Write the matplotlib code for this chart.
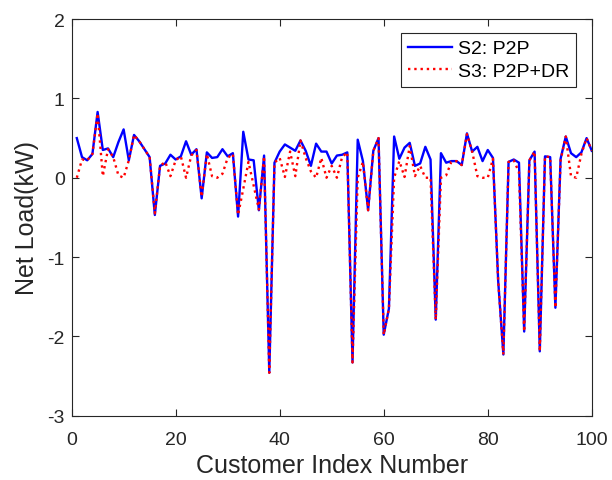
import numpy as np
import matplotlib.pyplot as plt

plt.rcParams['font.family'] = ['Liberation Sans', 'DejaVu Sans']
plt.rcParams['axes.unicode_minus'] = False

# customer index 1..100
customers = np.arange(1, 101)

# S2: P2P net load (kW)
s2_p2p = [0.50, 0.26, 0.22, 0.30, 0.83, 0.35, 0.37, 0.26, 0.45, 0.61,
          0.22, 0.54, 0.46, 0.36, 0.26, -0.47, 0.15, 0.18, 0.29, 0.23,
          0.27, 0.46, 0.29, 0.36, -0.26, 0.32, 0.25, 0.26, 0.36, 0.27,
          0.31, -0.49, 0.58, 0.23, 0.22, -0.41, 0.28, -2.46, 0.19, 0.33,
          0.42, 0.38, 0.34, 0.47, 0.34, 0.15, 0.43, 0.33, 0.33, 0.18,
          0.28, 0.29, 0.32, -2.33, 0.48, 0.21, -0.41, 0.34, 0.50, -1.98,
          -1.65, 0.52, 0.24, 0.38, 0.44, 0.15, 0.18, 0.39, 0.23, -1.79,
          0.31, 0.19, 0.21, 0.21, 0.16, 0.56, 0.33, 0.39, 0.21, 0.35,
          0.25, -1.30, -2.23, 0.20, 0.23, 0.19, -1.94, 0.22, 0.33, -2.19,
          0.27, 0.26, -1.64, 0.24, 0.52, 0.31, 0.26, 0.32, 0.50, 0.34]

# S3: P2P+DR net load (kW)
s3_p2p_dr = [0.00, 0.23, 0.22, 0.30, 0.81, 0.02, 0.36, 0.26, 0.03, 0.00,
             0.22, 0.54, 0.46, 0.36, 0.26, -0.45, 0.15, 0.20, 0.02, 0.22,
             0.27, 0.00, 0.28, 0.35, -0.24, 0.30, 0.02, 0.00, 0.05, 0.25,
             0.30, -0.47, -0.14, 0.20, -0.10, -0.40, 0.27, -2.46, 0.19, 0.25,
             0.01, 0.33, 0.02, 0.47, 0.25, 0.08, 0.00, 0.25, 0.00, 0.15,
             0.00, 0.26, 0.32, -2.33, 0.00, 0.20, -0.41, 0.34, 0.50, -1.98,
             -1.65, 0.00, 0.21, 0.01, 0.40, 0.02, 0.15, 0.00, 0.00, -1.79,
             0.00, 0.03, 0.20, 0.21, 0.16, 0.55, 0.33, 0.02, 0.00, 0.00,
             0.24, -1.30, -2.23, 0.20, 0.22, 0.07, -1.94, 0.22, 0.33, -2.19,
             0.27, 0.26, -1.64, 0.22, 0.52, 0.02, 0.00, 0.30, 0.50, 0.34]

axis_col = '#262626'

fig = plt.figure(figsize=(6.12, 4.81), dpi=100)
ax = fig.add_axes([0.117, 0.134, 0.850, 0.824])

ax.plot(customers, s2_p2p, '-', color='#0000ff', lw=1.7, label='S2: P2P')
ax.plot(customers, s3_p2p_dr, ':', color='#ff0000', lw=1.7, label='S3: P2P+DR')

ax.set_xlim(0, 100)
ax.set_ylim(-3, 2)
ax.set_xticks(np.arange(0, 101, 20))
ax.set_yticks(np.arange(-3, 3, 1))

ax.set_xlabel('Customer Index Number', fontsize=18, color=axis_col, labelpad=4)
ax.set_ylabel('Net Load(kW)', fontsize=18, color=axis_col, labelpad=6)

ax.tick_params(direction='in', top=True, right=True, length=5,
               width=0.8, labelsize=14, colors=axis_col, pad=5)
ax.tick_params(axis='x', pad=11)
for sp in ax.spines.values():
    sp.set_color(axis_col)
    sp.set_linewidth(0.8)

leg = ax.legend(loc='upper right', bbox_to_anchor=(0.97, 0.965),
                fontsize=14, fancybox=False, framealpha=1,
                edgecolor=axis_col, borderaxespad=0, handlelength=2.3,
                handletextpad=0.3, labelspacing=0.25, borderpad=0.35)
leg.get_frame().set_linewidth(0.8)

fig.savefig('out.png', dpi=100)
